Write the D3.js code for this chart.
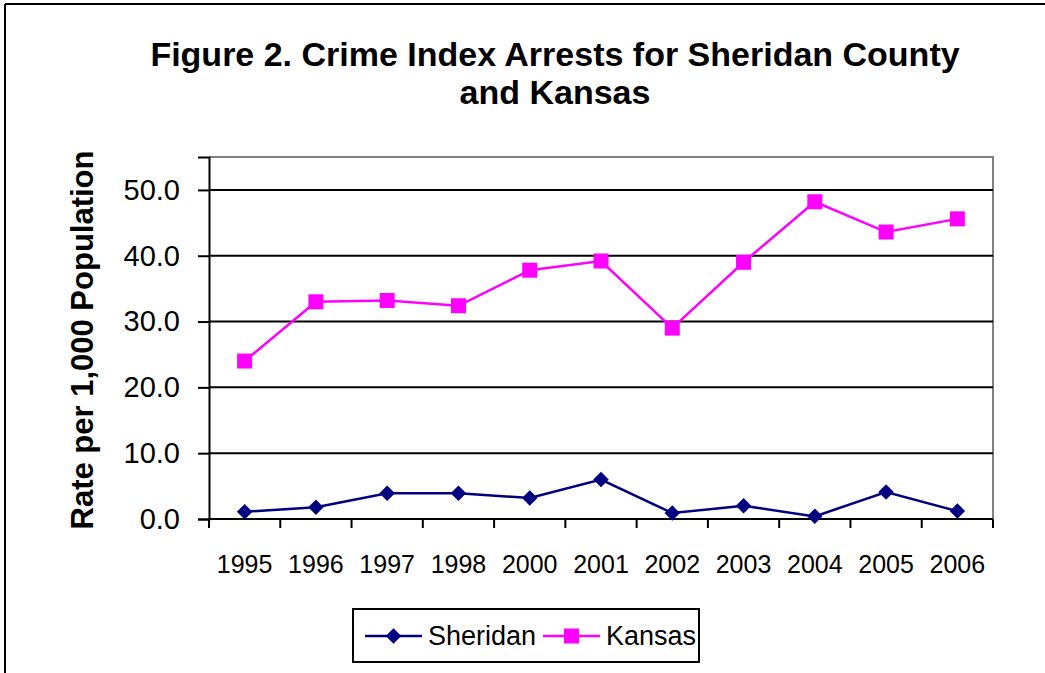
<!DOCTYPE html>
<html>
<head>
<meta charset="utf-8">
<script src="https://cdn.jsdelivr.net/npm/d3@7"></script>
<style>
  body { margin: 0; background: #fff; }
  svg { display: block; font-family: "Liberation Sans", Arial, sans-serif; }
</style>
</head>
<body>
<svg id="chart" width="1045" height="673"></svg>
<script>
// chart data
const years = ["1995", "1996", "1997", "1998", "2000", "2001", "2002", "2003", "2004", "2005", "2006"];
const sheridan = [1.1, 1.8, 3.9, 3.9, 3.2, 6.0, 0.9, 2.0, 0.4, 4.1, 1.2];
const kansas = [24.0, 33.0, 33.2, 32.4, 37.8, 39.2, 29.0, 39.0, 48.2, 43.6, 45.6];
const yTicks = [0, 10, 20, 30, 40, 50];

const svg = d3.select("#chart");
const margin = { left: 209, top: 157, right: 993, bottom: 519 };

// outer frame (only left and top show in the crop)
svg.append("line").attr("x1", 5).attr("y1", 4).attr("x2", 1045).attr("y2", 4)
  .attr("stroke", "#000").attr("stroke-width", 2);
svg.append("line").attr("x1", 5).attr("y1", 4).attr("x2", 5).attr("y2", 673)
  .attr("stroke", "#000").attr("stroke-width", 2);

// title
const title = svg.append("text")
  .attr("text-anchor", "middle")
  .attr("font-size", "34px")
  .attr("font-weight", "bold");
title.append("tspan").attr("x", 555).attr("y", 66).text("Figure 2. Crime Index Arrests for Sheridan County");
title.append("tspan").attr("x", 555).attr("y", 104).text("and Kansas");

// scales
const x = d3.scaleBand().domain(years).range([margin.left, margin.right]);
const y = d3.scaleLinear().domain([0, 55]).range([margin.bottom, margin.top]);

// plot area border (grey top and right)
svg.append("path")
  .attr("d", `M${margin.left},${margin.top}H${margin.right}V${margin.bottom}`)
  .attr("fill", "none").attr("stroke", "#808080").attr("stroke-width", 2);

// gridlines
svg.append("g").selectAll("line")
  .data(yTicks.filter(d => d > 0))
  .join("line")
  .attr("x1", margin.left).attr("x2", margin.right)
  .attr("y1", d => y(d)).attr("y2", d => y(d))
  .attr("stroke", "#000").attr("stroke-width", 2);

// y axis
const yAxis = svg.append("g")
  .attr("transform", `translate(${margin.left},0)`)
  .call(d3.axisLeft(y).tickValues(yTicks).tickFormat(d3.format(".1f")).tickSize(11).tickPadding(18));
yAxis.select(".domain").attr("stroke", "#000").attr("stroke-width", 2);
yAxis.selectAll(".tick line").attr("stroke", "#000").attr("stroke-width", 2);
yAxis.selectAll("text").attr("font-size", "29px").attr("fill", "#000")
  .attr("font-family", "Liberation Sans, Arial, sans-serif");

// x axis: ticks on band boundaries
const xAxis = svg.append("g");
xAxis.append("line")
  .attr("x1", margin.left).attr("x2", margin.right)
  .attr("y1", margin.bottom).attr("y2", margin.bottom)
  .attr("stroke", "#000").attr("stroke-width", 2);
xAxis.selectAll(".xtick")
  .data(years.map(d => x(d)).concat([margin.right]))
  .join("line")
  .attr("x1", d => d).attr("x2", d => d)
  .attr("y1", margin.bottom).attr("y2", margin.bottom + 9)
  .attr("stroke", "#000").attr("stroke-width", 2);
xAxis.selectAll(".xlabel")
  .data(years)
  .join("text")
  .attr("x", d => x(d) + x.bandwidth() / 2)
  .attr("y", 573)
  .attr("text-anchor", "middle")
  .attr("font-size", "25px")
  .text(d => d);

// y axis title
svg.append("text")
  .attr("transform", "translate(93,340) rotate(-90)")
  .attr("text-anchor", "middle")
  .attr("font-size", "31px")
  .attr("font-weight", "bold")
  .text("Rate per 1,000 Population");

const cx = d => x(d) + x.bandwidth() / 2;
const line = d3.line().x((d, i) => cx(years[i])).y(d => y(d));

// Sheridan series
svg.append("path").datum(sheridan)
  .attr("d", line).attr("fill", "none")
  .attr("stroke", "#000080").attr("stroke-width", 2.5);
svg.append("g").selectAll("path")
  .data(sheridan)
  .join("path")
  .attr("d", d3.symbol(d3.symbolSquare, 120))
  .attr("transform", (d, i) => `translate(${cx(years[i])},${y(d)}) rotate(45)`)
  .attr("fill", "#000080");

// Kansas series
svg.append("path").datum(kansas)
  .attr("d", line).attr("fill", "none")
  .attr("stroke", "#FF00FF").attr("stroke-width", 2.5);
svg.append("g").selectAll("rect")
  .data(kansas)
  .join("rect")
  .attr("x", (d, i) => cx(years[i]) - 7.5)
  .attr("y", d => y(d) - 7.5)
  .attr("width", 15).attr("height", 15)
  .attr("fill", "#FF00FF");

// legend
const legend = svg.append("g");
legend.append("rect")
  .attr("x", 353).attr("y", 609).attr("width", 346).attr("height", 53)
  .attr("fill", "#fff").attr("stroke", "#000").attr("stroke-width", 2);
const legendItems = [
  { name: "Sheridan", color: "#000080", x0: 365, shape: "diamond" },
  { name: "Kansas", color: "#FF00FF", x0: 543, shape: "square" }
];
legendItems.forEach(item => {
  legend.append("line")
    .attr("x1", item.x0).attr("x2", item.x0 + 57)
    .attr("y1", 636).attr("y2", 636)
    .attr("stroke", item.color).attr("stroke-width", 2.5);
  if (item.shape === "diamond") {
    legend.append("path")
      .attr("d", d3.symbol(d3.symbolSquare, 120))
      .attr("transform", `translate(${item.x0 + 28.5},636) rotate(45)`)
      .attr("fill", item.color);
  } else {
    legend.append("rect")
      .attr("x", item.x0 + 21).attr("y", 628.5)
      .attr("width", 15).attr("height", 15)
      .attr("fill", item.color);
  }
  legend.append("text")
    .attr("x", item.x0 + 63).attr("y", 645)
    .attr("font-size", "27px")
    .text(item.name);
});
</script>
</body>
</html>
